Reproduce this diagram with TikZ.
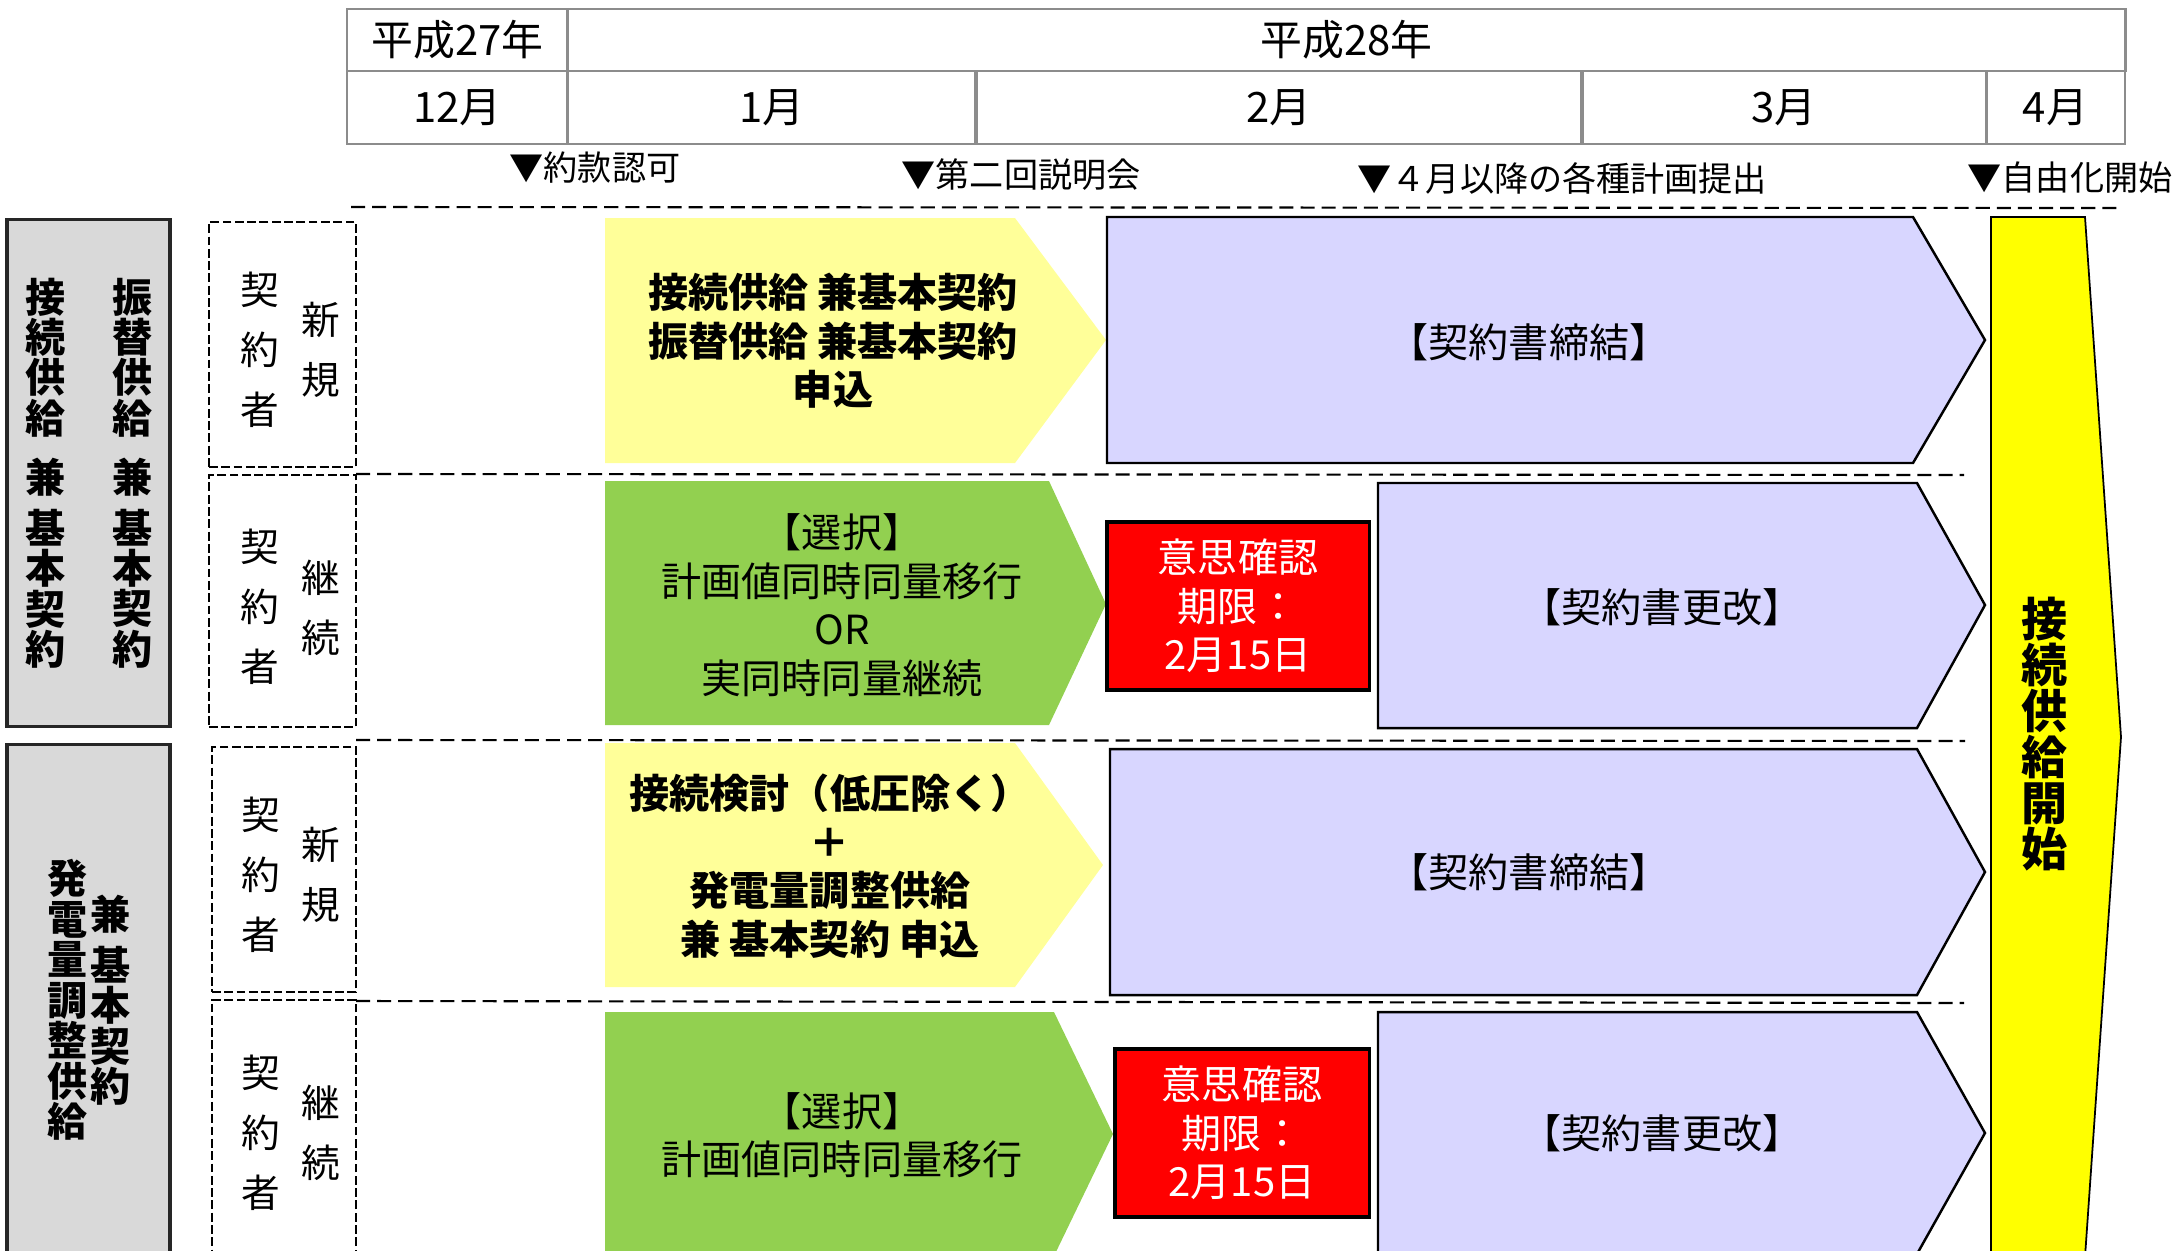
\documentclass[tikz,border=0pt]{standalone}
\usepackage{fontspec}
\setmainfont{Noto Sans CJK JP}
\definecolor{paley}{HTML}{FFFF99}
\definecolor{grn}{HTML}{92D050}
\definecolor{lav}{HTML}{D8D6FF}
\definecolor{gry}{HTML}{D9D9D9}
\definecolor{tblline}{HTML}{8C8C8C}
\definecolor{bigy}{HTML}{FFFF00}
\definecolor{redb}{HTML}{FF0000}
\begin{document}
\begin{tikzpicture}[x=0.01cm,y=-0.01cm,
  tbl/.style={draw=tblline, line width=0.8pt, inner sep=0pt, font=\fontsize{11.9}{13}\selectfont},
  evt/.style={anchor=west, inner sep=0pt, font=\fontsize{9.7}{11}\selectfont},
  sepline/.style={line width=0.6pt, dash pattern=on 4pt off 2pt},
  dbox/.style={draw, line width=0.5pt, dash pattern=on 2.5pt off 1pt, inner sep=0pt},
  graybox/.style={draw=black!85, fill=gry, line width=0.9pt, inner sep=0pt},
  vtxt/.style={align=center, inner sep=0pt, font=\fontsize{11}{17.07}\selectfont},
  gtxt/.style={align=center, inner sep=0pt, font=\bfseries\fontsize{11.4}{11.5}\selectfont},
  btxt/.style={align=center, inner sep=0pt, font=\fontsize{11.4}{13.8}\selectfont},
  bbtxt/.style={align=center, inner sep=0pt, font=\bfseries\fontsize{11.4}{13.8}\selectfont},
  yarrow/.style={fill=paley},
  garrow/.style={fill=grn},
  parrow/.style={fill=lav, draw=black, line width=0.7pt},
  redbox/.style={fill=redb, draw=black, line width=0.9pt, inner sep=0pt, text=white, align=center, font=\fontsize{11.4}{13.8}\selectfont},
  ybar/.style={fill=bigy, draw=black, line width=0.5pt},
  ytxt/.style={align=center, inner sep=0pt, font=\bfseries\fontsize{13.1}{13.1}\selectfont}
]
\useasboundingbox (0,0) rectangle (2181,1250);
\clip (0,0) rectangle (2181,1250);

% ---- table ----
\node[tbl, minimum width=2.21cm, minimum height=0.62cm] (y27) at (457.5,40) {平成27年};
\node[tbl, minimum width=15.57cm, minimum height=0.62cm] (y28) at (1346.5,40) {平成28年};
\node[tbl, minimum width=2.21cm, minimum height=0.73cm] (m12) at (457.5,107.5) {12月};
\node[tbl, minimum width=4.08cm, minimum height=0.73cm] (m1) at (772,107.5) {1月};
\node[tbl, minimum width=6.06cm, minimum height=0.73cm] (m2) at (1279,107.5) {2月};
\node[tbl, minimum width=4.04cm, minimum height=0.73cm] (m3) at (1784,107.5) {3月};
\node[tbl, minimum width=1.39cm, minimum height=0.73cm] (m4) at (2055.5,107.5) {4月};

% ---- events ----
\node[evt] (e1) at (509,168) {▼約款認可};
\node[evt] (e2) at (901,175) {▼第二回説明会};
\node[evt] (e3) at (1357,178) {▼４月以降の各種計画提出};
\node[evt] (e4) at (1967,178) {▼自由化開始};

% ---- separators ----
\draw[sepline] (351,207) -- (2118,208);
\draw[sepline] (356,474) -- (1964,475);
\draw[sepline] (356,740) -- (1965,741);
\draw[sepline] (356,1001) -- (1964,1003);

% ---- left gray boxes ----
\node[graybox, minimum width=1.63cm, minimum height=5.06cm] (g1) at (88.5,473) {};
\node[gtxt] (g1a) at (46,473) {接\\続\\供\\給\\[5.4pt]兼\\[2.8pt]基\\本\\契\\約};
\node[gtxt] (g1b) at (133,473) {振\\替\\供\\給\\[5.4pt]兼\\[2.8pt]基\\本\\契\\約};
\node[graybox, minimum width=1.63cm, minimum height=5.2cm] (g2) at (88.5,1005) {};
\node[gtxt] (g2a) at (68,1000) {発\\電\\量\\調\\整\\供\\給};
\node[gtxt] (g2b) at (111,1000) {兼\\[3pt]基\\本\\契\\約};

% ---- dashed boxes ----
\node[dbox, minimum width=1.47cm, minimum height=2.45cm] (d1) at (282.5,344.5) {};
\node[dbox, minimum width=1.47cm, minimum height=2.52cm] (d2) at (282.5,601) {};
\node[dbox, minimum width=1.44cm, minimum height=2.45cm] (d3) at (284,869.5) {};
\node[dbox, minimum width=1.44cm, minimum height=2.62cm] (d4) at (284,1131) {};
\node[vtxt] (d1a) at (260,350) {契\\約\\者};
\node[vtxt] (d1b) at (321,350) {新\\規};
\node[vtxt] (d2a) at (260,607) {契\\約\\者};
\node[vtxt] (d2b) at (321,608) {継\\続};
\node[vtxt] (d3a) at (261,875) {契\\約\\者};
\node[vtxt] (d3b) at (321,875) {新\\規};
\node[vtxt] (d4a) at (261,1133) {契\\約\\者};
\node[vtxt] (d4b) at (321,1133) {継\\続};

% ---- row arrows ----
\path[yarrow] (605,218) -- (1015,218) -- (1106,340) -- (1015,463) -- (605,463) -- cycle;
\path[garrow] (605,481) -- (1049,481) -- (1106,604) -- (1049,725) -- (605,725) -- cycle;
\path[yarrow] (605,743) -- (1015,743) -- (1103,865) -- (1015,987) -- (605,987) -- cycle;
\path[garrow] (605,1012) -- (1054,1012) -- (1113,1134) -- (1054,1256) -- (605,1256) -- cycle;

\path[parrow] (1107,217) -- (1913,217) -- (1985,340) -- (1913,463) -- (1107,463) -- cycle;
\path[parrow] (1378,483) -- (1917,483) -- (1985,605) -- (1917,728) -- (1378,728) -- cycle;
\path[parrow] (1110,749) -- (1917,749) -- (1985,872) -- (1917,995) -- (1110,995) -- cycle;
\path[parrow] (1378,1012) -- (1917,1012) -- (1985,1133) -- (1917,1254) -- (1378,1254) -- cycle;

\path[ybar] (1991,217) -- (2085,217) -- (2121,737) -- (2085,1257) -- (1991,1257) -- cycle;

% ---- texts in arrows ----
\node[bbtxt] (t1) at (833,341) {接続供給 兼基本契約\\振替供給 兼基本契約\\申込};
\node[btxt] (t2) at (842,605) {【選択】\\計画値同時同量移行\\OR\\実同時同量継続};
\node[bbtxt] (t3) at (830,866) {接続検討（低圧除く）\\＋\\発電量調整供給\\兼 基本契約 申込};
\node[btxt] (t4) at (842,1135) {【選択】\\計画値同時同量移行};

\node[btxt] (p1) at (1529,342) {【契約書締結】};
\node[btxt] (p2) at (1662,607) {【契約書更改】};
\node[btxt] (p3) at (1529,872) {【契約書締結】};
\node[btxt] (p4) at (1662,1133) {【契約書更改】};

\node[redbox, minimum width=2.62cm, minimum height=1.68cm] (r1) at (1238,606) {意思確認\\期限：\\2月15日};
\node[redbox, minimum width=2.54cm, minimum height=1.68cm] (r2) at (1242,1133) {意思確認\\期限：\\2月15日};

\node[ytxt] (yb) at (2045,734) {接\\続\\供\\給\\開\\始};
\end{tikzpicture}
\end{document}
